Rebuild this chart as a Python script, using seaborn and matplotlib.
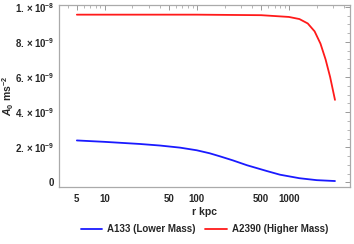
import numpy as np
import pandas as pd
import matplotlib
matplotlib.use("Agg")
import matplotlib.pyplot as plt
import seaborn as sns
from matplotlib.ticker import FixedLocator, FuncFormatter, MultipleLocator, LogLocator, NullFormatter

# Data
r_blue = [5, 10, 24, 40, 66, 100, 138, 180, 245, 350, 575, 800, 1300, 2000, 3160]
a_blue = [2.39e-9, 2.31e-9, 2.19e-9, 2.10e-9, 1.98e-9, 1.83e-9, 1.66e-9, 1.48e-9, 1.26e-9,
          0.98e-9, 0.65e-9, 0.44e-9, 0.24e-9, 0.13e-9, 0.08e-9]
r_red = [5, 10, 100, 500, 1000, 1300, 1600, 1900, 2200, 2500, 2800, 3160]
a_red = [9.55e-9, 9.55e-9, 9.55e-9, 9.52e-9, 9.42e-9, 9.30e-9, 9.05e-9, 8.6e-9, 7.9e-9, 7.0e-9, 6.0e-9, 4.7e-9]
labels = ["A133 (Lower Mass)", "A2390 (Higher Mass)"]
colors = ["#1a1aff", "#ff1a1a"]
xticks = [5, 10, 50, 100, 500, 1000]
yticks = [0, 2e-9, 4e-9, 6e-9, 8e-9, 1e-8]

df = pd.concat([
    pd.DataFrame({"r": r_blue, "A": a_blue, "series": labels[0]}),
    pd.DataFrame({"r": r_red, "A": a_red, "series": labels[1]}),
])

sns.set_style("white")
plt.rcParams['font.family'] = ['Liberation Sans', 'DejaVu Sans']
plt.rcParams['mathtext.fontset'] = 'custom'
plt.rcParams['mathtext.rm'] = 'Liberation Sans:bold'
plt.rcParams['mathtext.it'] = 'Liberation Sans:italic:bold'
plt.rcParams['mathtext.bf'] = 'Liberation Sans:bold'

fig = plt.figure(figsize=(3.54, 2.44), dpi=100)
ax_h = (187 - 5) / 244
ax = fig.add_axes([59/354, 1 - 187/244, (350 - 59)/354, ax_h])

sns.lineplot(data=df, x="r", y="A", hue="series", palette=colors, ax=ax,
             linewidth=1.3, legend=True, sort=False, estimator=None)

ax.set_xscale("log")
ax.set_xlim(3.2, 4600)
ax.set_ylim(-0.26e-9, 1.01e-8)

ax.xaxis.set_major_locator(FixedLocator(xticks))
ax.xaxis.set_major_formatter(FuncFormatter(lambda v, p: f"{int(v)}"))
ax.xaxis.set_minor_locator(LogLocator(base=10, subs=np.arange(1, 10), numticks=20))
ax.xaxis.set_minor_formatter(NullFormatter())

def yfmt(v, p):
    if abs(v) < 1e-15:
        return "0"
    e = int(np.floor(np.log10(abs(v)) + 1e-9))
    m = v / 10**e
    return r"$\mathbf{%d.\times 10^{%d}}$" % (round(m), e)

ax.yaxis.set_major_locator(FixedLocator(yticks))
ax.yaxis.set_major_formatter(FuncFormatter(yfmt))
ax.yaxis.set_minor_locator(MultipleLocator(0.5e-9))

for s in ax.spines.values():
    s.set_color("#aaaaaa")
    s.set_linewidth(0.9)
ax.tick_params(which="both", direction="in", color="#999999", labelsize=7,
               top=True, right=True)
ax.tick_params(which="major", length=3.5, width=0.7)
ax.tick_params(which="minor", length=2, width=0.5)
ax.tick_params(axis="x", which="major", pad=5)
for lab in ax.get_xticklabels() + ax.get_yticklabels():
    lab.set_fontweight("bold")

ax.set_xlabel("r kpc", fontsize=7.5, fontweight="bold")
ax.xaxis.set_label_coords(0.5, -(207 - 187) / 182)
ax.set_ylabel(r"$\mathit{A}_{\mathbf{0}}\ \mathbf{ms^{-2}}$", fontsize=7.5)
ax.yaxis.set_label_coords(-(59 - 16) / 291, (187 - 96) / 182)

handles, labs = ax.get_legend_handles_labels()
ax.legend(handles, labs, loc="center", bbox_to_anchor=(0.5, -(229 - 187) / 182),
          ncol=2, frameon=False, prop={"weight": "bold", "size": 7},
          handlelength=2.2, columnspacing=1.0, handletextpad=0.5)

fig.savefig("out.png", dpi=100)
